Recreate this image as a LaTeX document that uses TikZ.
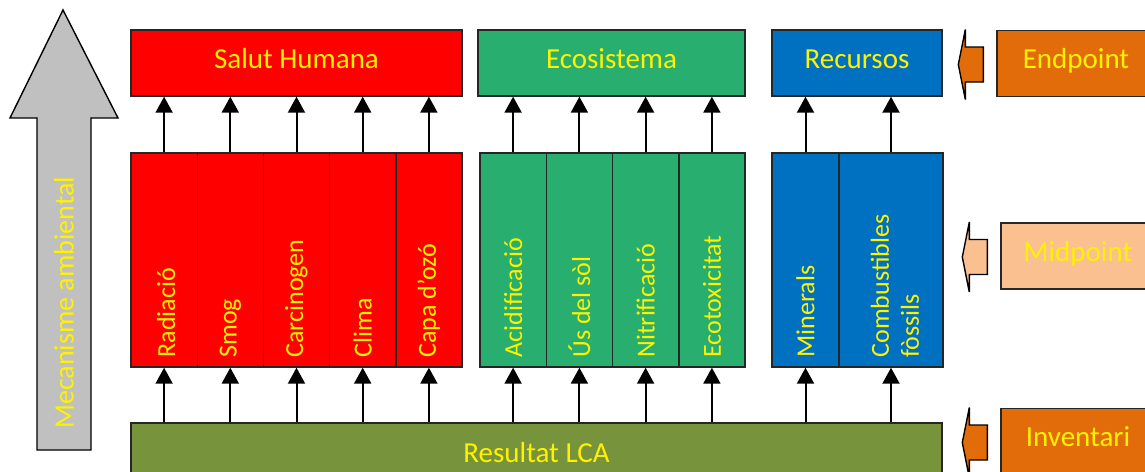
\documentclass[tikz,border=0pt]{standalone}
\usepackage{fontspec}
\setmainfont{Carlito}
\usetikzlibrary{arrows.meta,calc}
\definecolor{shred}{RGB}{255,0,0}
\definecolor{ecogreen}{RGB}{40,174,111}
\definecolor{resblue}{RGB}{0,112,192}
\definecolor{olivebar}{RGB}{119,147,60}
\definecolor{stageorange}{RGB}{227,108,10}
\definecolor{stagelight}{RGB}{250,192,144}
\definecolor{mechgray}{RGB}{192,192,192}
\begin{document}
\begin{tikzpicture}[x=1pt,y=-1pt,
  box/.style={draw=black!85, line width=1.4pt, inner sep=0pt, text=yellow,
    text height=20pt, text depth=10pt, font=\fontsize{29}{33}\selectfont},
  topbox/.style={box, minimum height=66},
  cell/.style={box, minimum width=66.2, minimum height=214},
  lbl/.style={rotate=90, anchor=west, inner sep=0pt, text=yellow, align=left,
    font=\fontsize{26}{30}\selectfont},
  up/.style={line width=2pt, -{Triangle[width=17pt,length=16pt]}},
  pointer/.style={draw=black, line width=1.4pt, line join=miter}]
\useasboundingbox (0,0) rectangle (1145,471);
\clip (0,0) rectangle (1145,471);

% environmental mechanism arrow
\draw[pointer, fill=mechgray] (63,10) -- (118,118) -- (91,118) -- (91,450)
  -- (37,450) -- (37,118) -- (10,118) -- cycle;
\node[lbl, font=\fontsize{28}{32}\selectfont] (mech) at (64,429) {Mecanisme ambiental};

% endpoint categories
\node[topbox, fill=shred, minimum width=331] (sh) at (296.5,63) {Salut Humana};
\node[topbox, fill=ecogreen, minimum width=267] (eco) at (611.5,63) {Ecosistema};
\node[topbox, fill=resblue, minimum width=170] (rec) at (857,63) {Recursos};

% midpoint categories
\node[cell, fill=shred] (rad) at (164.1,260) {};
\node[cell, fill=shred] (smog) at (230.3,260) {};
\node[cell, fill=shred] (carc) at (296.5,260) {};
\node[cell, fill=shred] (clim) at (362.7,260) {};
\node[cell, fill=shred] (ozo) at (428.9,260) {};
\node[cell, fill=ecogreen] (acid) at (513.1,260) {};
\node[cell, fill=ecogreen] (sol) at (579.4,260) {};
\node[cell, fill=ecogreen] (nitr) at (645.6,260) {};
\node[cell, fill=ecogreen] (ecot) at (711.9,260) {};
\node[cell, fill=resblue, minimum width=67] (min) at (805.5,260) {};
\node[cell, fill=resblue, minimum width=104] (fos) at (891,260) {};

\node[lbl] (radl) at ($(rad.south)+(2,-10)$) {Radiació};
\node[lbl] (smogl) at ($(smog.south)+(0,-10)$) {Smog};
\node[lbl] (carcl) at ($(carc.south)+(0,-10)$) {Carcinogen};
\node[lbl] (climl) at ($(clim.south)+(0,-10)$) {Clima};
\node[lbl] (ozol) at ($(ozo.south)+(0,-10)$) {Capa d’ozó};
\node[lbl] (acidl) at ($(acid.south)+(0,-10)$) {Acidificació};
\node[lbl] (soll) at ($(sol.south)+(0,-10)$) {Ús del sòl};
\node[lbl] (nitrl) at ($(nitr.south)+(0,-10)$) {Nitrificació};
\node[lbl] (ecotl) at ($(ecot.south)+(0,-10)$) {Ecotoxicitat};
\node[lbl] (minl) at ($(min.south)+(0,-10)$) {Minerals};
\node[lbl] (fosl) at ($(fos.south)+(4,-10)$) {Combustibles\\fòssils};

% inventory result
\node[box, fill=olivebar, minimum width=811, minimum height=58,
      text height=22pt, text depth=2pt] (lca) at (536.5,452) {Resultat LCA};

% connectors
\foreach \c/\t in {rad/sh, smog/sh, carc/sh, clim/sh, ozo/sh,
                   acid/eco, sol/eco, nitr/eco, ecot/eco, min/rec, fos/rec} {
  \draw[up] (\c.south |- lca.north) -- (\c.south);
  \draw[up] (\c.north) -- (\c.north |- \t.south);
}

% stage labels
\node[topbox, fill=stageorange, minimum width=158] (endp) at (1076,63.5) {Endpoint};
\node[topbox, fill=stagelight, minimum width=154] (midp) at (1078,256) {Midpoint};
\node[topbox, fill=stageorange, minimum width=154] (inv) at (1078,441.5) {Inventari};

\foreach \n/\col in {endp/stageorange, midp/stagelight, inv/stageorange} {
  \draw[pointer, fill=\col] ($(\n.west)+(-38,1)$) -- ++(7,-35) -- ++(0,17.5)
    -- ++(18,0) -- ++(0,35) -- ++(-18,0) -- ++(0,17.5) -- cycle;
}
\end{tikzpicture}
\end{document}
